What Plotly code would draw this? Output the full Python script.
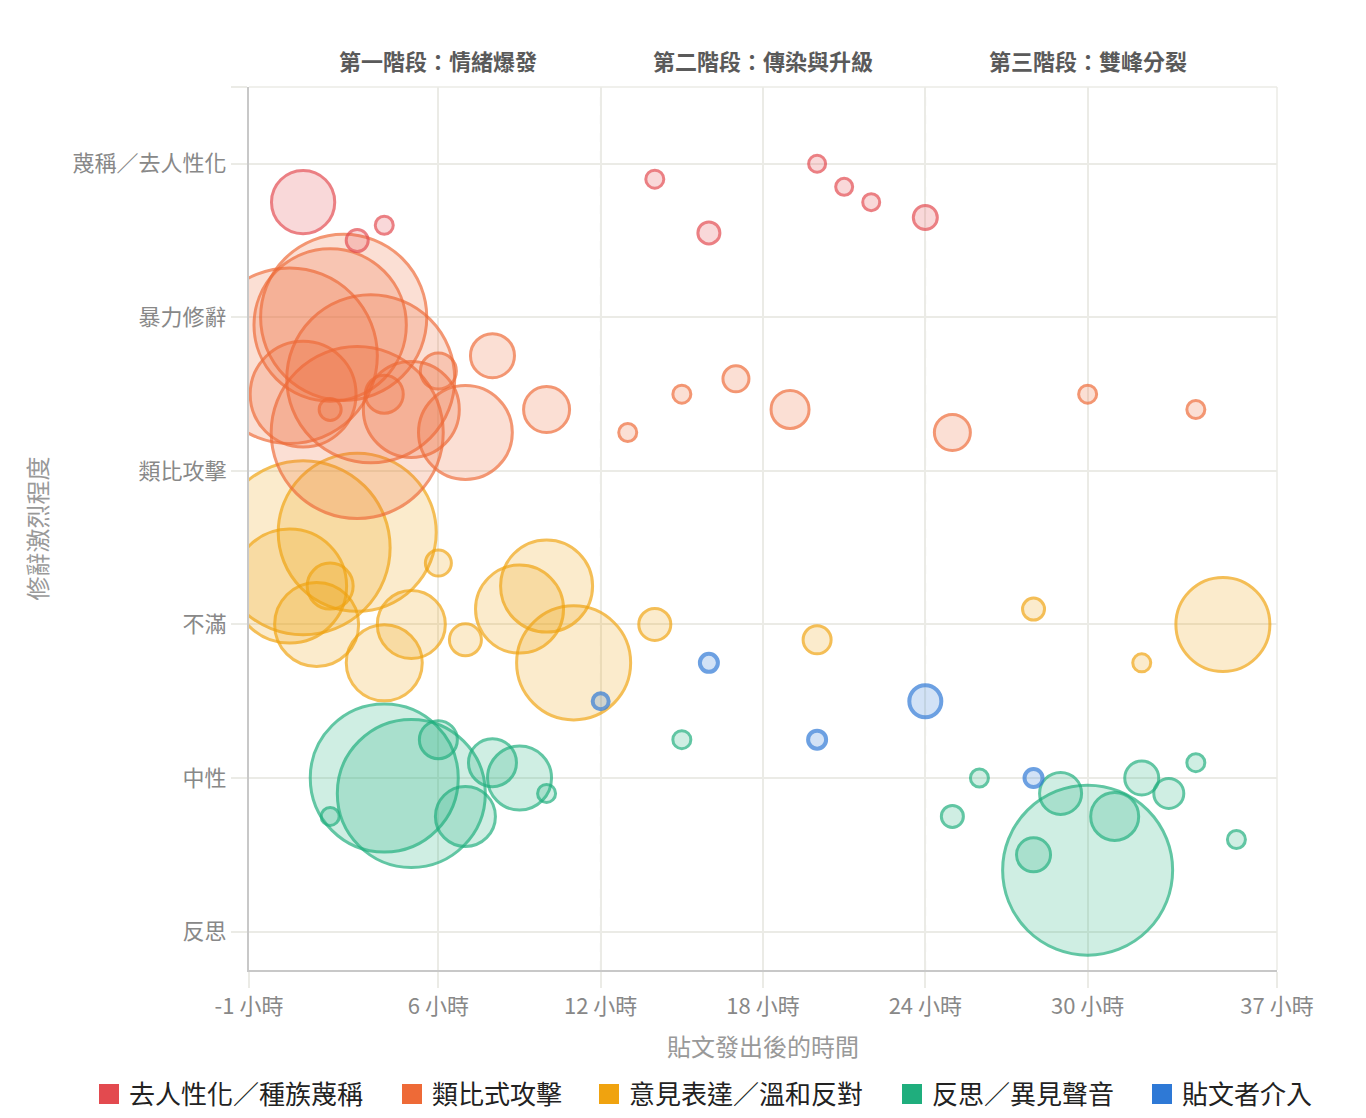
import plotly.graph_objects as go

# 修辭層級（y 軸）
level_labels = ["反思", "中性", "不滿", "類比攻擊", "暴力修辭", "蔑稱／去人性化"]

# 時間軸刻度
hour_ticks = [-1, 6, 12, 18, 24, 30, 37]
hour_tick_text = [f"{h} 小時" for h in hour_ticks]

# 各類留言：發文後小時數、修辭層級、互動數
dehuman_hours = [1, 4, 3, 14, 16, 20, 21, 22, 24]
dehuman_level = [4.75, 4.6, 4.5, 4.9, 4.55, 5.0, 4.85, 4.75, 4.65]
dehuman_count = [1000, 81, 121, 81, 121, 72, 72, 72, 144]

analogy_hours = [0.5, 3.5, 3, 2.5, 2, 1, 5, 7, 10, 8, 4, 6, 2, 13, 15, 17, 19, 25, 30, 34]
analogy_level = [3.75, 3.6, 3.25, 4.0, 3.95, 3.5, 3.4, 3.25, 3.4, 3.75, 3.5, 3.65, 3.4,
                 3.25, 3.5, 3.6, 3.4, 3.25, 3.5, 3.4]
analogy_count = [7700, 7050, 7400, 6900, 5800, 2800, 2300, 2200, 529, 484, 361, 324, 121,
                 81, 81, 169, 361, 324, 81, 81]

opinion_hours = [1, 3, 0.5, 11, 10, 9, 1.5, 4, 5, 2, 7, 6, 14, 20, 28, 32, 35]
opinion_level = [2.5, 2.6, 2.25, 1.75, 2.25, 2.1, 2.0, 1.75, 2.0, 2.25, 1.9, 2.4,
                 2.0, 1.9, 2.1, 1.75, 2.0]
opinion_count = [7570, 6240, 3250, 3250, 2116, 1936, 1764, 1444, 1156, 529, 256, 169,
                 256, 196, 121, 81, 2209]

reflect_hours = [4, 5, 9, 7, 8, 6, 10, 2, 15, 30, 31, 29, 28, 32, 33, 34, 35.5, 26, 25]
reflect_level = [1.0, 0.9, 1.0, 0.75, 1.1, 1.25, 0.9, 0.75, 1.25, 0.4, 0.75, 0.9, 0.5,
                 1.0, 0.9, 1.1, 0.6, 1.0, 0.75]
reflect_count = [5476, 5476, 1024, 900, 576, 361, 81, 81, 81, 7225, 576, 441, 289,
                 289, 225, 81, 81, 81, 121]

poster_hours = [12, 16, 20, 24, 28]
poster_level = [1.5, 1.75, 1.25, 1.5, 1.0]
poster_count = [64, 81, 81, 256, 81]

phase_names = ["第一階段：情緒爆發", "第二階段：傳染與升級", "第三階段：雙峰分裂"]
phase_centers = [6, 18, 30]
phase_bounds = [12, 24]

groups = [
    ("反思／異見聲音", reflect_hours, reflect_level, reflect_count, "#1fae7d", 3),
    ("意見表達／溫和反對", opinion_hours, opinion_level, opinion_count, "#f0a30f", 3),
    ("類比式攻擊", analogy_hours, analogy_level, analogy_count, "#ee6a37", 3),
    ("去人性化／種族蔑稱", dehuman_hours, dehuman_level, dehuman_count, "#e34a4f", 3),
    ("貼文者介入", poster_hours, poster_level, poster_count, "#2e79d6", 4),
]
legend_order = ["去人性化／種族蔑稱", "類比式攻擊", "意見表達／溫和反對", "反思／異見聲音", "貼文者介入"]
# 圖例方塊的水平位置（像素，圖框座標）
legend_swatch_px = [106, 409, 606, 909, 1159]

FONT = "Noto Sans CJK TC"
W, H = 1358, 1110
ML, MR, MT, MB = 241, 89, 79, 148
PW, PH = W - ML - MR, H - MT - MB


def rgba(hex_color, a):
    h = hex_color.lstrip("#")
    r, g, b = int(h[0:2], 16), int(h[2:4], 16), int(h[4:6], 16)
    return f"rgba({r},{g},{b},{a})"


fig = go.Figure()

# 氣泡：面積代表互動數
for name, xs, ys, cs, col, lw in groups:
    fig.add_trace(go.Scatter(
        x=xs, y=ys, mode="markers", name=name, showlegend=False,
        marker=dict(size=cs, sizemode="area", sizeref=0.5, color=rgba(col, 0.3),
                    line=dict(color=col, width=lw)),
        cliponaxis=True,
    ))

# 圖例：每個項目各自一個 legend，以對齊原圖間距
color_of = {g[0]: g[4] for g in groups}
legend_layouts = {}
for i, name in enumerate(legend_order):
    key = "legend" if i == 0 else f"legend{i + 1}"
    fig.add_trace(go.Scatter(
        x=[None], y=[None], mode="markers", name=name, legend=key,
        marker=dict(symbol="square", size=16, color=color_of[name],
                    line=dict(color=color_of[name], width=4)),
    ))
    legend_layouts[key] = dict(
        orientation="h", xref="paper", yref="paper",
        x=(legend_swatch_px[i] - 25 - ML) / PW, xanchor="left",
        y=-(1086 - (H - MB)) / PH, yanchor="middle",
        font=dict(family=FONT, size=26, color="#222222"),
        itemwidth=30, bgcolor="rgba(0,0,0,0)",
    )

# 階段分隔虛線
for b in phase_bounds:
    fig.add_shape(type="line", xref="x", yref="paper", x0=b, x1=b, y0=0, y1=1,
                  line=dict(color="#cccccc", width=1.5, dash="dash"), layer="below")

# 上緣與右緣格線
fig.add_shape(type="line", xref="paper", yref="paper", x0=0, x1=1, y0=1, y1=1,
              line=dict(color="#ebebe6", width=1.5), layer="below")
fig.add_shape(type="line", xref="paper", yref="paper", x0=1, x1=1, y0=0, y1=1,
              line=dict(color="#ebebe6", width=1.5), layer="below")

for name, cx in zip(phase_names, phase_centers):
    fig.add_annotation(x=cx, y=1, xref="x", yref="paper", yshift=27, text=name,
                       showarrow=False, yanchor="middle",
                       font=dict(family=FONT, size=22, color="#5a5a5a", weight="bold"))

fig.update_layout(
    width=W, height=H,
    margin=dict(l=ML, r=MR, t=MT, b=MB, autoexpand=False),
    paper_bgcolor="white", plot_bgcolor="white",
    font=dict(family=FONT, color="#888888"),
    xaxis=dict(
        range=[-1, 37], tickmode="array", tickvals=hour_ticks, ticktext=hour_tick_text,
        showgrid=True, gridcolor="#ebebe6", gridwidth=1.5, zeroline=False,
        showline=True, linecolor="#c8c8c8", linewidth=2,
        ticks="outside", ticklen=16, tickcolor="#ebebe6", tickwidth=1.5,
        tickfont=dict(family=FONT, size=22, color="#888888"),
        title=dict(text="貼文發出後的時間", standoff=20,
                   font=dict(family=FONT, size=24, color="#999999")),
    ),
    yaxis=dict(
        range=[-0.25, 5.5], tickmode="array", tickvals=[0, 1, 2, 3, 4, 5, 5.5],
        ticktext=level_labels + [""],
        showgrid=True, gridcolor="#ebebe6", gridwidth=1.5, zeroline=False,
        showline=True, linecolor="#c8c8c8", linewidth=2,
        ticks="outside", ticklen=16, tickcolor="#ebebe6", tickwidth=1.5,
        tickfont=dict(family=FONT, size=22, color="#888888"),
        title=dict(text="修辭激烈程度", standoff=18,
                   font=dict(family=FONT, size=24, color="#999999")),
    ),
    **legend_layouts,
)

fig.write_html("out.html")
